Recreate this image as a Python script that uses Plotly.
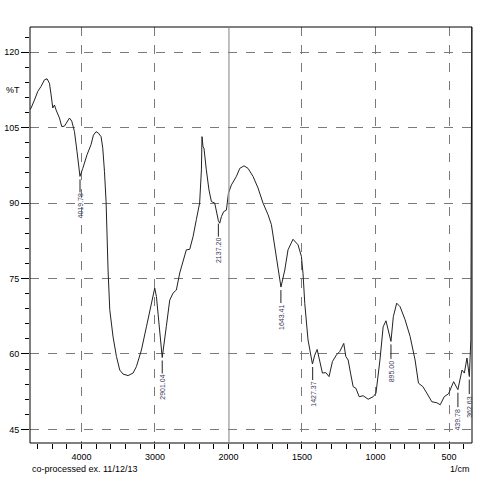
import numpy as np
import plotly.graph_objects as go

# IR spectrum (wavenumber in 1/cm, %T)
wavenumber = [
    4700, 4685, 4639, 4594, 4549, 4503, 4468, 4435, 4413, 4390, 4367, 4345,
    4299, 4268, 4231, 4163, 4132, 4095, 4060, 4020, 3982, 3924, 3870, 3837,
    3801, 3769, 3733, 3710, 3687, 3665, 3638, 3615, 3570, 3524, 3479, 3434,
    3366, 3298, 3252, 3184, 3116, 3048, 3003, 2980, 2935, 2901, 2845, 2799,
    2754, 2709, 2663, 2618, 2573, 2527, 2482, 2437, 2392, 2368, 2360, 2346,
    2333, 2301, 2265, 2232, 2187, 2137, 2119, 2096, 2065, 2028, 2005, 2000,
    1980, 1946, 1923, 1894, 1867, 1833, 1799, 1765, 1731, 1708, 1685, 1663,
    1643, 1617, 1595, 1561, 1527, 1504, 1493, 1481, 1459, 1429, 1413, 1397,
    1379, 1361, 1338, 1316, 1293, 1266, 1243, 1216, 1202, 1186, 1170, 1152,
    1134, 1111, 1084, 1050, 1016, 997, 970, 948, 929, 913, 895, 879,
    856, 833, 799, 765, 731, 708, 678, 651, 617, 583, 560, 533,
    503, 469, 450, 440, 412, 396, 378, 367, 362, 352, 348, 345,
]
transmittance = [
    108.6, 108.9, 110.5, 112.2, 113.2, 114.5, 114.7, 113.8, 111.5, 108.9, 109.5, 108.5,
    106.9, 105.2, 105.3, 106.9, 106.3, 104.2, 100.2, 95.3, 96.9, 99.6, 101.6, 103.5,
    104.2, 103.9, 103.2, 100.9, 96.3, 90.3, 76.7, 68.8, 63.4, 59.5, 56.8, 56.0,
    55.7, 56.2, 57.5, 60.8, 65.4, 70.1, 73.1, 71.4, 64.8, 59.3, 65.5, 70.7,
    72.1, 72.7, 76.1, 78.7, 80.7, 80.8, 83.3, 86.7, 90.0, 96.6, 103.2, 101.2,
    100.9, 96.6, 92.6, 90.3, 90.0, 86.5, 86.0, 87.3, 88.3, 88.6, 91.3, 92.0,
    93.6, 95.3, 96.9, 97.4, 96.9, 95.3, 93.0, 90.0, 87.7, 85.7, 81.4, 76.7,
    73.3, 76.7, 80.7, 82.8, 81.7, 79.4, 76.0, 70.0, 62.8, 58.0, 59.8, 60.9,
    58.8, 56.2, 56.3, 55.5, 58.5, 59.8, 60.5, 62.1, 59.5, 58.8, 56.2, 53.5,
    53.2, 51.5, 51.7, 51.0, 51.5, 52.2, 58.8, 65.4, 66.6, 64.8, 62.5, 67.4,
    70.1, 69.4, 66.8, 63.5, 58.8, 54.2, 53.5, 52.2, 50.5, 50.3, 49.9, 51.5,
    52.1, 54.5, 53.5, 52.9, 56.8, 56.2, 59.2, 56.5, 55.5, 62.8, 90.0, 128.0,
]

# labelled peaks
peak_wn = [4019.78, 2901.04, 2137.20, 1643.41, 1427.37, 895.00, 439.78, 362.63]
peak_t = [95.3, 59.3, 86.5, 73.3, 58.0, 62.5, 52.9, 55.5]
peak_text = ["4019.78", "2901.04", "2137.20", "1643.41", "1427.37", "895.00", "439.78", "362.63"]

wn = np.array(wavenumber)
t = np.array(transmittance)
hi = wn >= 2000
lo = wn <= 2000

FONT = "Liberation Sans, Arial, sans-serif"
GRID = "#7a7a7a"

fig = go.Figure()
fig.add_trace(go.Scatter(x=wn[hi], y=t[hi], mode="lines", xaxis="x", yaxis="y",
                         line=dict(color="#222222", width=1), showlegend=False))
fig.add_trace(go.Scatter(x=wn[lo], y=t[lo], mode="lines", xaxis="x2", yaxis="y2",
                         line=dict(color="#222222", width=1), showlegend=False))

split = 0.449  # 4700-2000 at half the scale of 2000-350

xcommon = dict(showline=False, zeroline=False, showgrid=True, gridcolor=GRID,
               griddash="dash", gridwidth=1, ticks="outside", ticklen=5,
               tickcolor="black", tickfont=dict(size=9, color="black"),
               automargin=False)

fig.update_layout(
    template="none",
    width=492, height=480,
    margin=dict(l=30, r=20, t=27, b=37, autoexpand=False),
    paper_bgcolor="white", plot_bgcolor="white",
    font=dict(family=FONT, size=9, color="black"),
    xaxis=dict(domain=[0, split], range=[4700, 2000], anchor="y",
               tickmode="array", tickvals=[4000, 3000, 2000],
               minor=dict(dtick=200, tick0=0, ticks="outside", ticklen=5,
                          tickcolor="black", showgrid=False),
               **xcommon),
    xaxis2=dict(domain=[split, 1], range=[2000, 344], anchor="y2",
                tickmode="array", tickvals=[1500, 1000, 500],
                minor=dict(dtick=100, tick0=0, ticks="outside", ticklen=5,
                           tickcolor="black", showgrid=False),
                **xcommon),
    yaxis=dict(range=[42.3, 125], anchor="x", tick0=0, dtick=15, automargin=False,
               showline=False, zeroline=False, showgrid=True, gridcolor=GRID,
               griddash="dash", ticks="outside", ticklen=8, tickcolor="black",
               tickfont=dict(size=9, color="black"),
               minor=dict(dtick=3, tick0=0, ticks="outside", ticklen=4,
                          tickcolor="black", showgrid=False)),
    yaxis2=dict(range=[42.3, 125], anchor="x2", matches="y", tick0=0, dtick=15,
                automargin=False, showline=False, zeroline=False, showgrid=True,
                gridcolor=GRID, griddash="dash", showticklabels=False, ticks=""),
)

# frame and the scale-change line at 2000
fig.add_shape(type="rect", xref="paper", yref="paper", x0=0, x1=1, y0=0, y1=1,
              line=dict(color="black", width=1), layer="above")
fig.add_shape(type="line", xref="x2", yref="paper", x0=2000, x1=2000, y0=0, y1=1,
              line=dict(color="#808080", width=2), layer="above")

for w, v, s in zip(peak_wn, peak_t, peak_text):
    axis = "x" if w > 2000 else "x2"
    fig.add_annotation(x=w, y=v, xref=axis, yref="y", text=s, textangle=-90,
                       showarrow=True, arrowhead=0, arrowwidth=1, arrowcolor="#222222",
                       ax=0, ay=30, standoff=3,
                       font=dict(size=7, color="#3a3a5a", family=FONT))

fig.add_annotation(text="%T", xref="paper", yref="y", x=0, y=112.4, xanchor="right",
                   xshift=-8, showarrow=False, font=dict(size=9, color="black"))
fig.add_annotation(text="co-processed ex. 11/12/13", xref="paper", yref="paper",
                   x=0, y=-0.063, xanchor="left", yanchor="middle", showarrow=False,
                   font=dict(size=9, color="black"))
fig.add_annotation(text="1/cm", xref="paper", yref="paper", x=1, y=-0.063,
                   xanchor="right", yanchor="middle", showarrow=False,
                   font=dict(size=9, color="black"))

# drop the browser's default 8px body margin so the figure fills the window
fig.write_html("out.html", config={"displayModeBar": False},
               post_script="document.body.style.margin='0';")
